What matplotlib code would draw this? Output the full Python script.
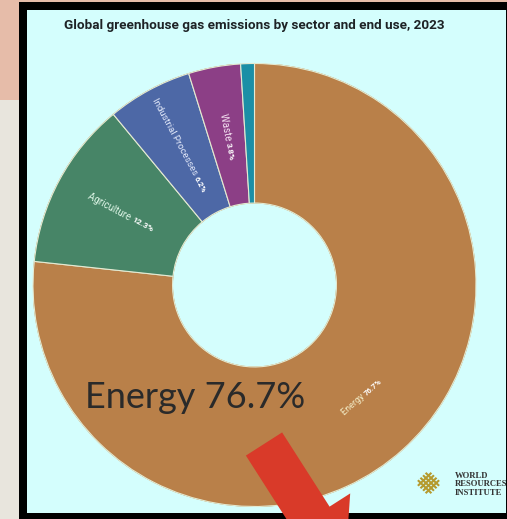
import numpy as np
import matplotlib.pyplot as plt
from matplotlib.patches import Rectangle, FancyArrow, Circle
from matplotlib.transforms import IdentityTransform

W, H = 507, 519

# data
sectors = ["Energy", "Agriculture", "Industrial Processes", "Waste", ""]
shares = [76.7, 12.3, 6.2, 3.8, 1.0]
colors = ["#B98049", "#478567", "#4D68A6", "#8C3F86", "#1B8FA6"]
label_colors = ["#F3EDC8", "#DDF5E6", "#E3E9FA", "#F6E3F3", "#FFFFFF"]

title = "Global greenhouse gas emissions by sector and end use, 2023"
callout = "Energy 76.7%"
logo_lines = ["WORLD", "RESOURCES", "INSTITUTE"]


def frac(x, y, w=0, h=0):
    # pixel box (from top-left) -> figure fraction [l, b, w, h]
    return [x / W, 1 - (y + h) / H, w / W, h / H]


fig = plt.figure(figsize=(W / 100, H / 100), dpi=100)
fig.patch.set_facecolor("#E8E5DD")

# background pieces
for (x, y, w, h, c) in [(0, 0, W, 100, "#E6BCA9"),
                        (19, 2, W - 19, H - 2, "#000000"),
                        (27, 10, W - 27 - 1, 503, "#D4FEFD")]:
    l, b, ww, hh = frac(x, y, w, h)
    fig.patches.append(Rectangle((l, b), ww, hh, transform=fig.transFigure,
                                 facecolor=c, edgecolor="none", zorder=-10))

fig.text(254 / W, 1 - 26 / H, title, ha="center", va="center",
         family=["Roboto", "DejaVu Sans"],
         fontweight="bold", fontsize=9.7, color="#1E2326")

# donut
cx, cy, R = 254.5, 285, 221.5
ax = fig.add_axes(frac(cx - R, cy - R, 2 * R, 2 * R))
ax.pie(shares, colors=colors, startangle=90, counterclock=False, radius=1,
       wedgeprops=dict(width=0.63, edgecolor="#E4EAD2", linewidth=0.8))
# thin gold rim round the energy part, as in the original
for rr in (1.0, 0.37):
    ax.add_patch(Circle((0, 0), rr, fill=False, edgecolor="#A9843F", lw=0.6, zorder=0.5))
ax.set_xlim(-1, 1)
ax.set_ylim(-1, 1)
ax.axis("off")

# wedge labels: name + bold percentage
label_font = ["Roboto", "DejaVu Sans"]
start = 90.0
tot = sum(shares)
for name, val, lc in zip(sectors, shares, label_colors):
    span = 360 * val / tot
    mid = start - span / 2
    start -= span
    if not name:
        continue
    a = np.deg2rad(mid)
    px, py = 0.70 * np.cos(a), 0.70 * np.sin(a)
    if name == "Energy":
        rot = mid + 90
        shift = 9
        fs = 6.5
    else:
        rot = mid - 180
        shift = {"Agriculture": 16, "Industrial Processes": 32, "Waste": 10}[name]
        fs = 6.8 if name == "Industrial Processes" else 7
    r = np.deg2rad(rot)
    sx = px + shift / R * np.cos(r)
    sy = py + shift / R * np.sin(r)
    ax.text(sx, sy, name + " ", rotation=rot, rotation_mode="anchor",
            ha="right", va="center", fontsize=fs, color=lc, family=label_font)
    ax.text(sx, sy, f"{val}%", rotation=rot, rotation_mode="anchor",
            ha="left", va="center", fontsize=fs - 1, color="white",
            fontweight="bold", family=label_font)

# big callout text
fig.text(85 / W, 1 - 408 / H, callout, ha="left", va="baseline",
         family=["Lato", "DejaVu Sans"], fontsize=26, color="#2A2A2A")

# red block arrow (display pixels)
tail = np.array([264.0, 444.0])
u = np.array([0.539, 0.843])
length = 150
fig.patches.append(FancyArrow(tail[0], H - tail[1], u[0] * length, -u[1] * length,
                              width=43, head_width=92, head_length=62,
                              length_includes_head=True, transform=IdentityTransform(),
                              facecolor="#D93A29", edgecolor="none", zorder=5))

# WRI logo
lax = fig.add_axes(frac(415, 470, 27, 26))
lax.set_xlim(-2.1, 2.1)
lax.set_ylim(-2.1, 2.1)
lax.axis("off")
for k in [-1.2, -0.4, 0.4, 1.2]:
    t = np.linspace(-2.2, 2.2, 2)
    lax.plot(t, t + k, color="#B59A2E", lw=1.5)
    lax.plot(t, -t + k, color="#B59A2E", lw=1.5)
diamond = plt.Polygon([[0, 2.1], [2.1, 0], [0, -2.1], [-2.1, 0]], closed=True,
                      transform=lax.transData)
for ln in lax.lines:
    ln.set_clip_path(diamond)

for i, s in enumerate(logo_lines):
    fig.text(455 / W, 1 - (476 + 8.5 * i) / H, s, ha="left", va="center",
             family=["Liberation Serif", "DejaVu Serif"], fontweight="bold",
             fontsize=6.2, color="#333333")

fig.savefig("out.png", dpi=100)
